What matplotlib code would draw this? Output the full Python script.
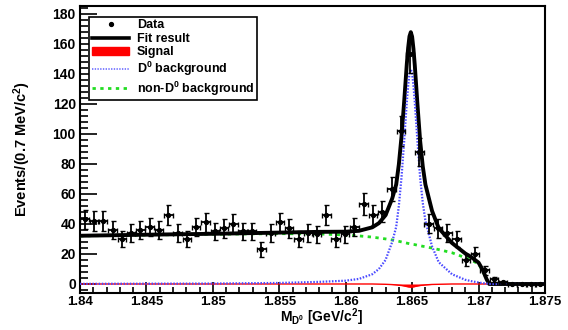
import numpy as np
import matplotlib
matplotlib.use("Agg")
import matplotlib.pyplot as plt
from matplotlib.ticker import MultipleLocator, FormatStrFormatter
from matplotlib.patches import Patch
from matplotlib.lines import Line2D

plt.rcParams['font.family'] = 'Liberation Sans'
plt.rcParams['font.weight'] = 'bold'
plt.rcParams['mathtext.fontset'] = 'custom'
plt.rcParams['mathtext.rm'] = 'Liberation Sans:bold'
plt.rcParams['mathtext.it'] = 'Liberation Sans:bold'
plt.rcParams['mathtext.bf'] = 'Liberation Sans:bold'
plt.rcParams['mathtext.default'] = 'regular'

# histogram: 50 bins of 0.7 MeV between 1.840 and 1.875 GeV
bin_lo = 1.840
bin_w = 0.0007
counts = [43, 42, 42, 36, 30, 34, 36, 38, 36, 46,
          34, 30, 38, 41, 35, 37, 40, 35, 35, 23,
          34, 41, 37, 30, 34, 33, 46, 30, 33, 38,
          53, 46, 48, 63, 102, 153, 88, 40, 37, 34,
          30, 16, 20, 9, 3, 1, 0, 0, 0, 0]

# fit components
curve_x = [1.840, 1.845, 1.850, 1.855, 1.858, 1.860, 1.861, 1.862, 1.8625, 1.863,
           1.8635, 1.8638, 1.864, 1.8642, 1.8644, 1.8645, 1.8646, 1.8647, 1.8648, 1.8649,
           1.8650, 1.8651, 1.8652, 1.8653, 1.8654, 1.8656, 1.8658, 1.866, 1.8665, 1.867,
           1.868, 1.869, 1.8695, 1.870, 1.8703, 1.8706, 1.8708, 1.872, 1.875]
d0_bkg = [0.1, 0.2, 0.3, 0.7, 1.4, 2.2, 3.4, 6.5, 10, 16,
          28, 38, 52, 71, 95, 108, 121, 132, 140, 143,
          140, 132, 121, 108, 95, 71, 54, 42, 25, 14.5,
          6.5, 2.8, 1.8, 1.0, 0.6, 0.3, 0.0, 0.0, 0.0]
nond0_bkg = [32.0, 32.6, 33.1, 33.5, 33.3, 32.6, 32.0, 31.2, 30.6, 30.0,
             29.3, 28.8, 28.4, 28.0, 27.6, 27.4, 27.2, 27.0, 26.8, 26.7,
             26.5, 26.3, 26.2, 26.0, 25.8, 25.5, 25.1, 24.8, 23.9, 22.9,
             20.8, 17.5, 15.8, 13.2, 9.0, 3.0, 0.0, 0.0, 0.0]
signal = [0, 0, 0, 0, 0, 0, 0, 0, -0.1, -0.2,
          -0.4, -0.6, -0.8, -1.0, -1.3, -1.5, -1.7, -1.9, -2.0, -2.1,
          -2.0, -1.9, -1.7, -1.5, -1.3, -1.0, -0.8, -0.6, -0.3, -0.2,
          0, 0, 0, 0, 0, 0, 0, 0, 0]

xc = np.array(curve_x)
total = np.array(d0_bkg) + np.array(nond0_bkg) + np.array(signal)

centers = bin_lo + bin_w*(np.arange(len(counts)) + 0.5)
y = np.array(counts, dtype=float)
yerr = np.sqrt(y)

fig = plt.figure(figsize=(5.68, 3.30), dpi=100)
ax = fig.add_axes([0.1408, 0.1121, 0.8187, 0.8697])

ax.fill_between(xc, 0, signal, color='red', lw=0, zorder=2)
ax.plot(xc, signal, color='red', lw=1.0, zorder=2)
ax.plot(xc, nond0_bkg, color='#22dd22', lw=2.0, ls=(0, (1.2, 1.6)), zorder=3)
ax.plot(xc, total, color='black', lw=2.8, zorder=4)
ax.plot(xc, d0_bkg, color='#4a4aff', lw=1.6, ls=(0, (0.7, 0.7)), zorder=5)
ax.errorbar(centers, y, yerr=yerr, xerr=0.00032, fmt='o', ms=2.8, color='black',
            ecolor='black', elinewidth=1.3, capsize=1.8, capthick=1.0, zorder=6)

ax.set_xlim(1.84, 1.875)
ax.set_ylim(-6, 185)
ax.xaxis.set_major_locator(MultipleLocator(0.005))
ax.xaxis.set_minor_locator(MultipleLocator(0.001))
ax.xaxis.set_major_formatter(FormatStrFormatter('%g'))
ax.yaxis.set_major_locator(MultipleLocator(20))
ax.yaxis.set_minor_locator(MultipleLocator(4))
ax.tick_params(axis='both', which='both', direction='in', width=1.2, labelsize=10)
ax.tick_params(axis='x', labelsize=9.5)
ax.tick_params(axis='y', which='major', length=12, pad=3)
ax.tick_params(axis='y', which='minor', length=6)
ax.tick_params(axis='x', which='major', length=8, pad=2)
ax.tick_params(axis='x', which='minor', length=4)
for s in ax.spines.values():
    s.set_linewidth(1.5)

# x axis title sits at the very bottom of the figure
fig.text(0.566, 0.006, r'$M_{D^0}$ [GeV/c$^2$]', fontsize=10, fontweight='bold',
         ha='center', va='bottom')
ax.set_ylabel(r'Events/(0.7 MeV/c$^2$)', fontsize=10.5, fontweight='bold')
ax.yaxis.set_label_coords(-0.1, 0.5)

handles = [Line2D([], [], color='black', marker='o', ms=2.8, ls='none'),
           Line2D([], [], color='black', lw=2.6),
           Patch(facecolor='red', edgecolor='red'),
           Line2D([], [], color='#8080ff', lw=1.4, ls=(0, (0.7, 0.7))),
           Line2D([], [], color='#22dd22', lw=2.0, ls=(0, (1.2, 1.6)))]
labels = ['Data', 'Fit result', 'Signal', r'D$^0$ background', r'non-D$^0$ background']
leg = ax.legend(handles, labels, loc='upper left', bbox_to_anchor=(0.02, 0.962),
                fontsize=9, frameon=True, fancybox=False, edgecolor='black',
                framealpha=1, borderpad=0.2, labelspacing=0.12, handlelength=3.0,
                handletextpad=0.6, borderaxespad=0)
leg.get_frame().set_linewidth(1.2)

fig.savefig('out.png', dpi=100)
